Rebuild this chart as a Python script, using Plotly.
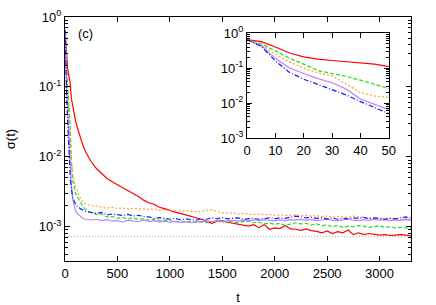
import plotly.graph_objects as go

# ---------------- data ----------------
t = [0, 5, 10, 15, 20, 25, 30, 35, 40, 45, 50, 60, 75, 100, 125, 150, 175, 200,
     250, 300, 350, 400, 450, 500, 550, 600, 650, 700, 750, 800, 850, 900, 950, 1000,
     1050, 1100, 1150, 1200, 1250, 1300, 1350, 1400, 1450, 1500, 1550, 1600, 1650, 1700,
     1750, 1800, 1850, 1900, 1950, 2000, 2050, 2100, 2150, 2200, 2250, 2300, 2350, 2400,
     2450, 2500, 2550, 2600, 2650, 2700, 2750, 2800, 2850, 2900, 2950, 3000, 3050, 3100,
     3150, 3200, 3250, 3300]

red = [0.65, 0.57, 0.40, 0.27, 0.21, 0.18, 0.165, 0.15, 0.14, 0.13, 0.11, 0.07, 0.05, 0.033,
       0.024, 0.018, 0.014, 0.0115,
       0.0085, 0.0068, 0.0057, 0.0049, 0.0044, 0.0040, 0.0036, 0.0033, 0.0030, 0.0027, 0.0024,
       0.0022, 0.0021, 0.0019, 0.00182, 0.0017, 0.00162, 0.00155, 0.00148, 0.0014, 0.00132,
       0.00128, 0.0012, 0.00112, 0.0012, 0.00122, 0.00116, 0.00112, 0.00109, 0.00104, 0.00102,
       0.00107, 0.00097, 0.00108, 0.00092, 0.00096, 0.00094, 0.00104, 0.00093, 0.00092, 0.00089,
       0.00093, 0.00088, 0.00086, 0.00082, 0.00087, 0.0008, 0.00085, 0.00082, 0.0009, 0.00077,
       0.00082, 0.00077, 0.0008, 0.00078, 0.00076, 0.00077, 0.00075, 0.00076, 0.00077, 0.00076,
       0.00074]

green = [0.65, 0.50, 0.31, 0.19, 0.13, 0.085, 0.07, 0.058, 0.045, 0.035, 0.026, 0.009, 0.0045,
         0.003, 0.0025, 0.0022, 0.0019, 0.00175,
         0.0016, 0.0015, 0.00152, 0.00138, 0.0014, 0.00132, 0.00135, 0.0013, 0.00134, 0.00127,
         0.0013, 0.00124, 0.00128, 0.00122, 0.00125, 0.0012, 0.00118, 0.0012, 0.00117, 0.0012,
         0.00116, 0.00118, 0.00114, 0.00118, 0.0012, 0.00116, 0.00119, 0.00117, 0.00115, 0.00118,
         0.0012, 0.00114, 0.00116, 0.0011, 0.00113, 0.00108, 0.00112, 0.00104, 0.0011, 0.00114,
         0.0011, 0.00112, 0.00106, 0.0011, 0.00104, 0.00106, 0.001, 0.00105, 0.00098, 0.00102,
         0.001, 0.00104, 0.00102, 0.00098, 0.001, 0.00104, 0.00098, 0.001, 0.00096, 0.00098,
         0.00096, 0.00095]

orange = [0.65, 0.47, 0.25, 0.15, 0.10, 0.073, 0.06, 0.035, 0.02, 0.016, 0.0145, 0.009, 0.0055,
          0.0038, 0.003, 0.0025, 0.0022, 0.0021,
          0.002, 0.00198, 0.0019, 0.00185, 0.0019, 0.00182, 0.00186, 0.0018, 0.00184, 0.00178,
          0.0018, 0.00176, 0.0018, 0.00172, 0.00176, 0.0017, 0.00172, 0.00168, 0.0017, 0.00166,
          0.00164, 0.00166, 0.0017, 0.00175, 0.00165, 0.00158, 0.00156, 0.00158, 0.00152, 0.00155,
          0.00152, 0.0015, 0.00152, 0.00148, 0.0015, 0.00146, 0.00148, 0.00145, 0.00147, 0.00148,
          0.00146, 0.00145, 0.00142, 0.00144, 0.0014, 0.00142, 0.00138, 0.0014, 0.00138, 0.00136,
          0.00142, 0.00138, 0.00136, 0.00134, 0.00132, 0.00134, 0.0013, 0.00132, 0.0013, 0.00128,
          0.00132, 0.00126]

blue = [0.65, 0.42, 0.16, 0.075, 0.048, 0.034, 0.025, 0.017, 0.011, 0.0075, 0.005, 0.0035,
        0.0026, 0.0021, 0.0019, 0.0018, 0.0017, 0.00165,
        0.0016, 0.00155, 0.0016, 0.00148, 0.00152, 0.0015, 0.00145, 0.0015, 0.00142, 0.00146,
        0.0014, 0.00138, 0.00132, 0.00135, 0.0013, 0.00128, 0.00132, 0.00126, 0.0013, 0.00126,
        0.00124, 0.0013, 0.00128, 0.00134, 0.0013, 0.00135, 0.0013, 0.00132, 0.00134, 0.00128,
        0.0013, 0.00132, 0.00128, 0.0013, 0.00134, 0.0013, 0.00134, 0.00132, 0.00136, 0.00142,
        0.00138, 0.00134, 0.00136, 0.00132, 0.00134, 0.0013, 0.00134, 0.00128, 0.00132, 0.0013,
        0.00134, 0.00132, 0.00136, 0.0013, 0.00134, 0.00132, 0.00128, 0.00132, 0.0013, 0.00134,
        0.00138, 0.00134]

purple = [0.65, 0.44, 0.19, 0.10, 0.07, 0.05, 0.038, 0.025, 0.013, 0.009, 0.0065, 0.004,
          0.0024, 0.0017, 0.0015, 0.0014, 0.0013, 0.00128,
          0.00125, 0.00128, 0.00122, 0.00126, 0.0012, 0.00122, 0.00117, 0.00124, 0.00121, 0.00118,
          0.00125, 0.00118, 0.00122, 0.00117, 0.0012, 0.00116, 0.00119, 0.00115, 0.00118, 0.00114,
          0.00118, 0.00116, 0.00121, 0.00118, 0.00122, 0.00119, 0.00121, 0.00123, 0.0012, 0.00124,
          0.00121, 0.00125, 0.00122, 0.00126, 0.00123, 0.00121, 0.00125, 0.00122, 0.00126, 0.00124,
          0.00127, 0.00123, 0.00126, 0.00122, 0.00125, 0.00128, 0.00124, 0.00121, 0.00125, 0.00129,
          0.00124, 0.00122, 0.00126, 0.00123, 0.00127, 0.00124, 0.00126, 0.00122, 0.00125, 0.00123,
          0.00126, 0.00124]

ref_level = 7.2e-4

y_tickvals = [1, 0.1, 0.01, 0.001]
y_ticktext = ["10<sup>0</sup>", "10<sup>-1</sup>", "10<sup>-2</sup>", "10<sup>-3</sup>"]
x_main_ticks = [0, 500, 1000, 1500, 2000, 2500, 3000]
x_inset_ticks = [0, 10, 20, 30, 40, 50]

series = [
    ("red", red, "#ff0000", "solid"),
    ("green", green, "#22dd22", "4px,2px"),
    ("orange", orange, "#ffa030", "2px,2px"),
    ("purple", purple, "#c080ff", "solid"),
    ("blue", blue, "#1a1aff", "5px,2px,1px,2px"),
]
for name, vals, _, _ in series:
    if len(vals) != len(t):
        raise ValueError(f"{name}: {len(vals)} vs {len(t)}")

# ---------------- figure ----------------
fig = go.Figure()

fig.add_trace(go.Scatter(x=[0, 3300], y=[ref_level, ref_level], mode="lines",
                         line=dict(color="#aaaaaa", width=1, dash="1px,2px"),
                         xaxis="x", yaxis="y", showlegend=False))

for name, vals, col, dash in series:
    fig.add_trace(go.Scatter(x=t, y=vals, mode="lines", name=name,
                             line=dict(color=col, width=1.2, dash=dash),
                             xaxis="x", yaxis="y", showlegend=False))

for name, vals, col, dash in series:
    ti = [a for a in t if a <= 50]
    vi = [v for a, v in zip(t, vals) if a <= 50]
    fig.add_trace(go.Scatter(x=ti, y=vi, mode="lines", name=name,
                             line=dict(color=col, width=1.2, dash=dash),
                             xaxis="x2", yaxis="y2", showlegend=False))

minor_vals = []
for dec in [1e-4, 1e-3, 1e-2, 1e-1]:
    for k in range(2, 10):
        minor_vals.append(k * dec)

font = dict(family="Liberation Sans, Arial, sans-serif", size=13, color="black")

axis_common = dict(showline=True, linecolor="black", linewidth=1, mirror="ticks",
                   ticks="inside", ticklen=5, tickcolor="black", showgrid=False,
                   zeroline=False, tickfont=font, automargin=False)

fig.update_layout(
    width=436, height=305,
    margin=dict(l=65, r=25, t=17, b=44),
    paper_bgcolor="white", plot_bgcolor="white",
    font=font,
    showlegend=False,
    xaxis=dict(axis_common, domain=[0, 1], range=[0, 3300], tickvals=x_main_ticks,
               title=dict(text="t", font=font, standoff=13)),
    yaxis=dict(axis_common, domain=[0, 1], type="log", range=[-3.49, 0],
               tickvals=y_tickvals, ticktext=y_ticktext,
               minor=dict(tickvals=minor_vals, ticks="inside", ticklen=3, tickcolor="black"),
               title=dict(text="σ(t)", font=font, standoff=20)),
    xaxis2=dict(axis_common, domain=[0.526, 0.936], range=[0, 50], tickvals=x_inset_ticks,
                anchor="y2"),
    yaxis2=dict(axis_common, domain=[0.504, 0.934], type="log", range=[-3, 0],
                tickvals=y_tickvals, ticktext=y_ticktext, anchor="x2",
                minor=dict(tickvals=minor_vals, ticks="inside", ticklen=3, tickcolor="black")),
    annotations=[dict(text="(c)", xref="paper", yref="paper", x=0.058, y=0.934,
                      showarrow=False, font=font, xanchor="center", yanchor="middle")],
)

fig.write_html("out.html", config={"displayModeBar": False},
               post_script="document.body.style.margin='0';document.body.style.overflow='hidden';")
